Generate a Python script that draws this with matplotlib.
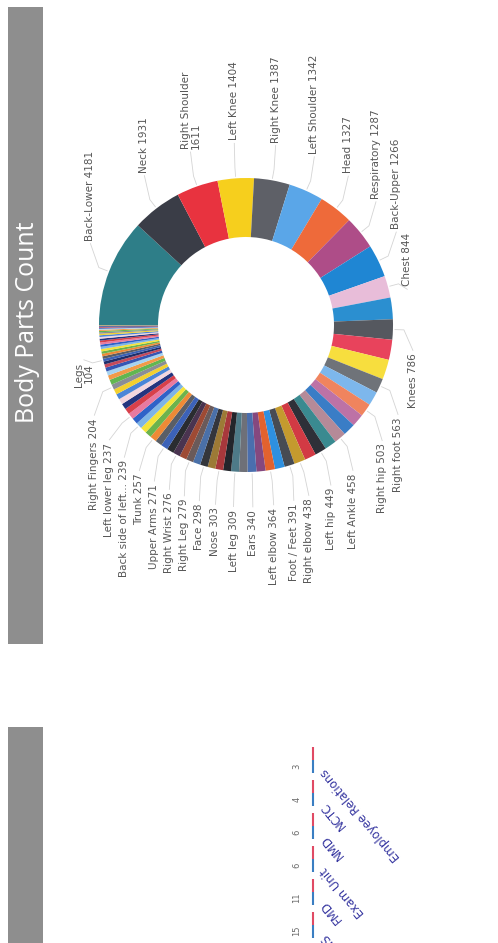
import matplotlib
matplotlib.use("Agg")
import matplotlib.pyplot as plt
from matplotlib.patches import Rectangle
import numpy as np

# ---------------- data ----------------
title = "Body Parts Count"

body_parts = [
    "Back-Lower", "Neck", "Right Shoulder", "Left Knee", "Right Knee",
    "Left Shoulder", "Head", "Respiratory", "Back-Upper", "Chest",
    "", "Knees", "", "", "Right foot", "", "Right hip", "", "", "Left Ankle",
    "", "Left hip", "", "Right elbow", "Foot / Feet", "", "Left elbow", "", "Ears", "",
    "Left leg", "", "Nose", "", "Face", "", "Right Leg", "", "Right Wrist", "",
    "Upper Arms", "", "Trunk", "", "", "Back side of left...", "", "Left lower leg", "", "",
    "", "", "", "Right Fingers", "", "", "", "", "", "",
    "Legs",
] + [""] * 24

counts = [
    4181, 1931, 1611, 1404, 1387, 1342, 1327, 1287, 1266, 844,
    838, 786, 780, 770, 563, 537, 503, 490, 480, 458,
    455, 449, 445, 438, 391, 378, 364, 352, 340, 325,
    309, 306, 303, 300, 298, 288, 279, 278, 276, 273,
    271, 265, 257, 250, 245, 239, 238, 237, 230, 225,
    218, 212, 208, 204, 195, 180, 165, 150, 130, 113,
    104,
    100, 97, 94, 91, 88, 84, 80, 76, 72, 68,
    64, 60, 55, 50, 45, 40, 35, 30, 25, 20,
    15, 10, 6, 3,
]

wrapped_labels = {"Right Shoulder", "Legs"}

units = ["OHS", "FMD", "Exam Unit", "NMD", "NCTC", "Employee Relations"]
unit_counts = [15, 11, 6, 6, 4, 3]

# ---------------- styles ----------------
round1 = ['#2E7E88', '#3A3D47', '#E8333F', '#F6CF1D', '#5E6067',
          '#5AA6E8', '#EE6A3A', '#AE4D88', '#1F86D3', '#E8BDD9']
round2 = ['#2B8FD0', '#55585F', '#E8435C', '#F7DE3E', '#6F7379',
          '#7DB7EC', '#F0845E', '#BD72A6', '#3A7DC6', '#B58A98']
round3 = ['#3A8A90', '#2E3038', '#D23A44', '#C49A2E', '#474B53',
          '#2E90E0', '#E2622E', '#85487F', '#4A6EAE', '#6E7078']
round4 = ['#4E7A88', '#23252B', '#A8383C', '#9C7A36', '#34363C',
          '#4A70A8', '#6A5A5A', '#9E4A34', '#4A3450', '#2A2C30']
bright = ['#3C62B8', '#5A5E66', '#EE8A36', '#6DB34C', '#F5E33A', '#7EB4E6',
          '#2F62C8', '#E87AA0', '#D8404A', '#24347E', '#F3D6DE', '#4A86D8',
          '#F2D030', '#8A8E96', '#62B650', '#F29A48', '#A6D2F0', '#3456B4',
          '#C44A5C', '#1F2E6A']
palette = round1 + round2 + round3 + round4
colors = [palette[i] if i < len(palette) else bright[(i - len(palette)) % len(bright)]
          for i in range(len(counts))]

label_color = '#565656'
leader_color = '#d4d4d4'
label_fs = 7.5

fig = plt.figure(figsize=(4.98, 9.43), dpi=100)
fig.patch.set_facecolor('white')
ax = fig.add_axes([0, 0, 1, 1])

# header bars
ax.add_patch(Rectangle((8, 7), 35, 637, color='#8e8e8e', lw=0))
ax.add_patch(Rectangle((8, 727), 35, 230, color='#8e8e8e', lw=0))
ax.text(27, 322, title, rotation=90, color='white', fontsize=17.9,
        family='Open Sans', ha='center', va='center')

# donut
cx, cy, r_out, ring = 246, 325, 147, 59
wedges, _ = ax.pie(counts, colors=colors, startangle=180, counterclock=True,
                   center=(cx, cy), radius=r_out, frame=True,
                   wedgeprops=dict(width=ring, linewidth=0.15, edgecolor='none'))
ax.set_xlim(0, 498)
ax.set_ylim(943, 0)
ax.set_aspect('equal')
ax.axis('off')

# ---- data labels (Power BI style layout, rotated) ----
R_ROW = 167      # position along the label column
R_OUT = 158      # radial reach before the horizontal leader
LEAD = 27

def anchor_y(x, sign):
    dx = x - cx
    c = np.clip(dx / R_ROW, -1, 1)
    s = np.sqrt(1 - c * c)
    k = 45 if abs(dx) > 159 else R_OUT
    return cy + sign * (LEAD + k * s)

top, bottom = [], []
for w, name, val in zip(wedges, body_parts, counts):
    if not name:
        continue
    mid = np.deg2rad((w.theta1 + w.theta2) / 2)
    txt = f"{name}\n{val}" if name in wrapped_labels else f"{name} {val}"
    lines = txt.split("\n")
    item = dict(mid=mid, txt=txt, n=len(lines),
                length=max(len(l) for l in lines) * 5.3,
                x=cx + R_ROW * np.cos(mid))
    (top if np.sin(mid) < 0 else bottom).append(item)

def spread(items, sign):
    items.sort(key=lambda d: -d['x'])
    for _ in range(400):
        moved = False
        for a, b in zip(items[:-1], items[1:]):
            ya, yb = anchor_y(a['x'], sign), anchor_y(b['x'], sign)
            ra = sorted([ya, ya + sign * a['length']])
            rb = sorted([yb, yb + sign * b['length']])
            if ra[1] + 2 < rb[0] or rb[1] + 2 < ra[0]:
                continue
            gap = 7.2 * (a['n'] + b['n']) + 0.6
            d = a['x'] - b['x']
            if d < gap - 0.01:
                s = (gap - d) / 2
                a['x'] += s
                b['x'] -= s
                moved = True
        if not moved:
            break

spread(bottom, 1)
spread(top, -1)

for group, sign in ((top, -1), (bottom, 1)):
    for it in group:
        x = it['x']
        y = anchor_y(x, sign)
        m = it['mid']
        p1 = (cx + 149 * np.cos(m), cy + 149 * np.sin(m))
        p2 = (cx + 158 * np.cos(m), cy + 158 * np.sin(m))
        p3 = (x, y - sign * 3)
        ax.plot([p1[0], p2[0], p3[0]], [p1[1], p2[1], p3[1]],
                color=leader_color, lw=0.6, zorder=1)
        ax.text(x, y, it['txt'], rotation=90, rotation_mode='anchor',
                ha='left' if sign < 0 else 'right', va='center',
                multialignment='left' if sign < 0 else 'right',
                fontsize=label_fs, color=label_color, linespacing=1.0)

# ---- partial column chart (bottom-left, cut by the page edge) ----
ax2 = fig.add_axes([200 / 498, (943 - 990) / 943, 130 / 498, 290 / 943])
ax2.set_xlim(113, -17)
ax2.set_ylim(-1.97, 6.82)
pos = np.arange(len(units))
ax2.vlines(np.zeros(len(units)), pos, pos + 0.4, color='#E04A64', lw=1.5)
ax2.vlines(np.zeros(len(units)), pos - 0.4, pos, color='#3A7EC2', lw=1.5)
for p, v, u in zip(pos, unit_counts, units):
    ax2.text(16, p - 0.18, str(v), rotation=90, ha='center', va='center',
             fontsize=6, color='#6a6a6a')
    ax2.text(-10, p - 0.3, u, rotation=130, rotation_mode='anchor',
             ha='right', va='center', fontsize=8.5, color='#3636A0')
ax2.axis('off')

fig.savefig('out.png', dpi=100, facecolor='white')
